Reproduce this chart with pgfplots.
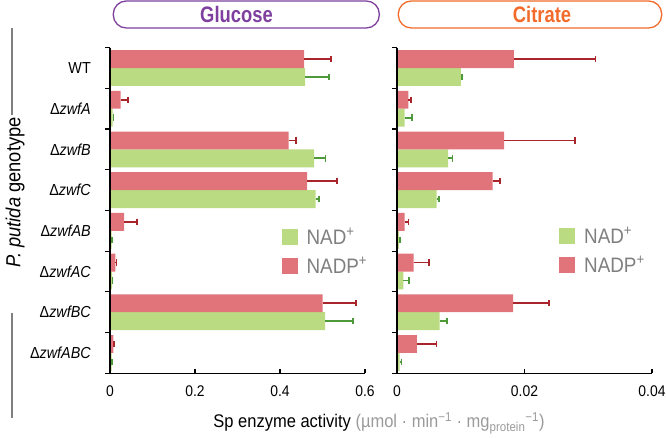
\documentclass[border=0pt]{standalone}
\usepackage{pgfplots}
\pgfplotsset{compat=1.18}
\usepackage{pgfplotstable}
\usepackage{fontspec}
\setmainfont{Liberation Sans}[FakeStretch=0.9]
\newfontfamily\titlefont{Liberation Sans}[FakeStretch=0.82]
\definecolor{barred}{HTML}{E0747A}
\definecolor{bargreen}{HTML}{BADB82}
\definecolor{errred}{HTML}{A8262B}
\definecolor{errgreen}{HTML}{4E9A3A}
\definecolor{titlepurple}{HTML}{7E3F9E}
\definecolor{titleorange}{HTML}{F26B2A}
\definecolor{legtext}{HTML}{7F7F7F}
\definecolor{unitgray}{HTML}{9A9A9A}

\pgfplotstableread{
c v e
0 0.457 0.063
1 0.025 0.018
2 0.420 0.018
3 0.464 0.071
4 0.033 0.031
5 0.0125 0.003
6 0.500 0.079
7 0.008 0.002
}\glucNADP
\pgfplotstableread{
c v e
0 0.459 0.056
1 0.006 0.002
2 0.480 0.027
3 0.484 0.008
4 0.004 0.001
5 0.005 0.001
6 0.506 0.066
7 0.004 0.001
}\glucNAD
\pgfplotstableread{
c v e
0 0.01835 0.0128
1 0.0018 0.0004
2 0.0168 0.0111
3 0.0150 0.0012
4 0.0012 0.0006
5 0.0026 0.0024
6 0.0182 0.0056
7 0.0031 0.0031
}\citNADP
\pgfplotstableread{
c v e
0 0.0100 0.0002
1 0.0012 0.0011
2 0.0080 0.0007
3 0.0062 0.0004
4 0.0003 0.0002
5 0.0010 0.0009
6 0.0067 0.0011
7 0.0004 0.0003
}\citNAD

\pgfplotsset{
  panel/.style={
    scale only axis, width=255bp, height=325.6bp,
    anchor=south west,
    xbar, bar width=0.44,
    y dir=reverse, ymin=-0.5, ymax=7.5, xmin=0,
    axis x line*=bottom, axis y line*=left,
    axis line style={line width=1.2bp, black, -},
    axis on top,
    tick align=inside,
    scaled x ticks=false,
    major tick length=4bp, minor tick length=5bp,
    every tick/.append style={line width=1.2bp, black},
    every major y tick/.append style={draw=none},
    every minor y tick/.append style={xshift=-5bp},
    ytick={0,...,7},
    minor ytick={-0.5,0.5,...,7.5},
    yticklabels={WT, Δ\textit{zwfA}, Δ\textit{zwfB}, Δ\textit{zwfC}, Δ\textit{zwfAB}, Δ\textit{zwfAC}, Δ\textit{zwfBC}, Δ\textit{zwfABC}},
    yticklabel style={font=\fontsize{16}{16}\selectfont, inner sep=0pt, xshift=-19bp},
    xticklabel style={font=\fontsize{15.5}{15.5}\selectfont, inner sep=0pt, yshift=-12.5bp},
    legend image code/.code={\fill[#1,draw=none] (0bp,-8bp) rectangle (16bp,8bp);},
    legend style={draw=none, fill=none, inner sep=0pt, outer sep=0pt,
      anchor=north west, column sep=9bp, row sep=12bp,
      nodes={inner sep=0pt, text=legtext, font=\fontsize{21}{21}\selectfont}},
    legend cell align=left,
    error bars/x dir=plus, error bars/x explicit,
  },
  greenbar/.style={fill=bargreen, draw=none, line width=1.8bp, bar shift=0.22,
    every error bar/.append style={line width=1.8bp, errgreen, solid},
    error bars/error mark options={line width=1.8bp, errgreen, mark size=3.2bp, rotate=90}},
  redbar/.style={fill=barred, draw=none, line width=1.8bp, bar shift=-0.22,
    every error bar/.append style={line width=1.8bp, errred, solid},
    error bars/error mark options={line width=1.8bp, errred, mark size=3.2bp, rotate=90}},
}

\begin{document}
\begin{tikzpicture}[x=1bp,y=1bp]
\useasboundingbox (0,0) rectangle (666,438);

\begin{axis}[panel, at={(110bp,64.7bp)}, xmax=0.6,
  xtick={0,0.2,0.4,0.6}, xticklabels={0,0.2,0.4,0.6},
  legend style={at={(0.673,0.446)}}]
\addplot[greenbar] table[x=v, y=c, x error=e] {\glucNAD};
\addplot[redbar] table[x=v, y=c, x error=e] {\glucNADP};
\legend{NAD\textsuperscript{+}, NADP\textsuperscript{+}}
\end{axis}

\begin{axis}[panel, at={(397bp,64.7bp)}, xmax=0.04,
  xtick={0,0.02,0.04}, xticklabels={0,0.02,0.04},
  yticklabels={}, 
  legend style={at={(0.636,0.449)}}]
\addplot[greenbar] table[x=v, y=c, x error=e] {\citNAD};
\addplot[redbar] table[x=v, y=c, x error=e] {\citNADP};
\legend{NAD\textsuperscript{+}, NADP\textsuperscript{+}}
\end{axis}

% title boxes
\draw[titlepurple, line width=1.3bp, rounded corners=13bp] (113.3,410) rectangle (379.3,437);
\node[text=titlepurple, font=\titlefont\fontsize{22.5}{22.5}\selectfont\bfseries] at (236.5,423.5) {Glucose};
\draw[titleorange, line width=1.3bp, rounded corners=13bp] (398.3,410) rectangle (661.7,437);
\node[text=titleorange, font=\titlefont\fontsize{22.5}{22.5}\selectfont\bfseries] at (542,423.5) {Citrate};

% y label
\draw[gray, line width=1.1bp] (12,410) -- (12,323);
\draw[gray, line width=1.1bp] (12,125) -- (12,20);
\node[rotate=90, font=\fontsize{20.4}{20.4}\selectfont, inner sep=0pt] at (15,245.5) {\textit{P. putida} genotype};

% x label
\node[anchor=base, inner sep=0pt, font=\fontsize{18.4}{18.4}\selectfont] at (379,10.3)
 {Sp enzyme activity \textcolor{unitgray}{(µmol · min\textsuperscript{−1} · mg\textsubscript{protein}\textsuperscript{−1})}};
\end{tikzpicture}
\end{document}
